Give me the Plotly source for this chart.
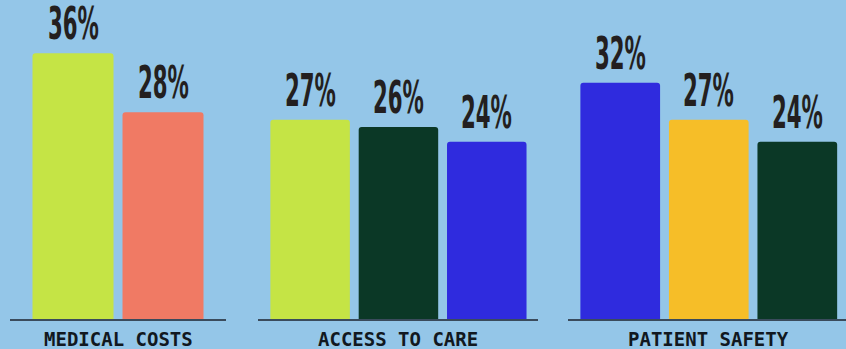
import plotly.graph_objects as go

groups = ["MEDICAL COSTS", "ACCESS TO CARE", "PATIENT SAFETY"]
values = [[36, 28], [27, 26, 24], [32, 27, 24]]
colors = [["#C5E445", "#F07A64"], ["#C5E445", "#0B3826", "#2F2BDE"], ["#2F2BDE", "#F6BE28", "#0B3826"]]

BG = "#94C6E8"
domains = [[10/846, 226/846], [258/846, 538/846], [568/846, 1.0]]
xranges = [[-0.7, 1.7], [-0.59, 2.58], [-0.59, 2.55]]

fig = go.Figure()
annotations = []
for i, (g, vals, cols) in enumerate(zip(groups, values, colors)):
    xa = "x" if i == 0 else f"x{i+1}"
    xs = list(range(len(vals)))
    fig.add_trace(go.Bar(x=xs, y=vals, marker=dict(color=cols, line=dict(width=0)),
                         width=0.9, xaxis=xa, yaxis="y", showlegend=False, hoverinfo="skip"))
    for x, v in zip(xs, vals):
        annotations.append(dict(x=x, y=v, xref=xa, yref="y", text=f"{v}%", showarrow=False,
                                yanchor="bottom", yshift=2,
                                font=dict(family="DejaVu Sans Condensed, DejaVu Sans, sans-serif",
                                          size=44, color="#231F20", weight="bold")))
    annotations.append(dict(x=(len(vals)-1)/2, y=0, xref=xa, yref="paper", text=f"<b>{g}</b>",
                            showarrow=False, yanchor="top", yshift=-7,
                            font=dict(family="DejaVu Sans Mono", size=19, color="#111820")))
    key = "xaxis" if i == 0 else f"xaxis{i+1}"
    fig.layout[key] = dict(domain=domains[i], range=xranges[i], anchor="y", showgrid=False,
                           zeroline=False, showticklabels=False, ticks="", showline=True,
                           linecolor="#3A4B5C", linewidth=1.5, fixedrange=True)

fig.update_layout(
    width=846, height=349, margin=dict(l=0, r=0, t=0, b=30),
    paper_bgcolor=BG, plot_bgcolor=BG,
    yaxis=dict(range=[0, 43.2], visible=False, showgrid=False, zeroline=False),
    barcornerradius=3,
    annotations=annotations,
)

post = """
var gd = document.getElementById('{plot_id}');
var texts = gd.querySelectorAll('.annotation-text');
var s = null;
texts.forEach(function(t){
  if (t.textContent.indexOf('%') < 0) return;
  var bb = t.getBBox();
  if (s === null) s = 51 / bb.width;
  var cx = bb.x + bb.width / 2;
  t.setAttribute('transform', 'translate(' + cx + ',0) scale(' + s + ',1) translate(' + (-cx) + ',0)');
});
"""
fig.write_html("out.html", post_script=post)
